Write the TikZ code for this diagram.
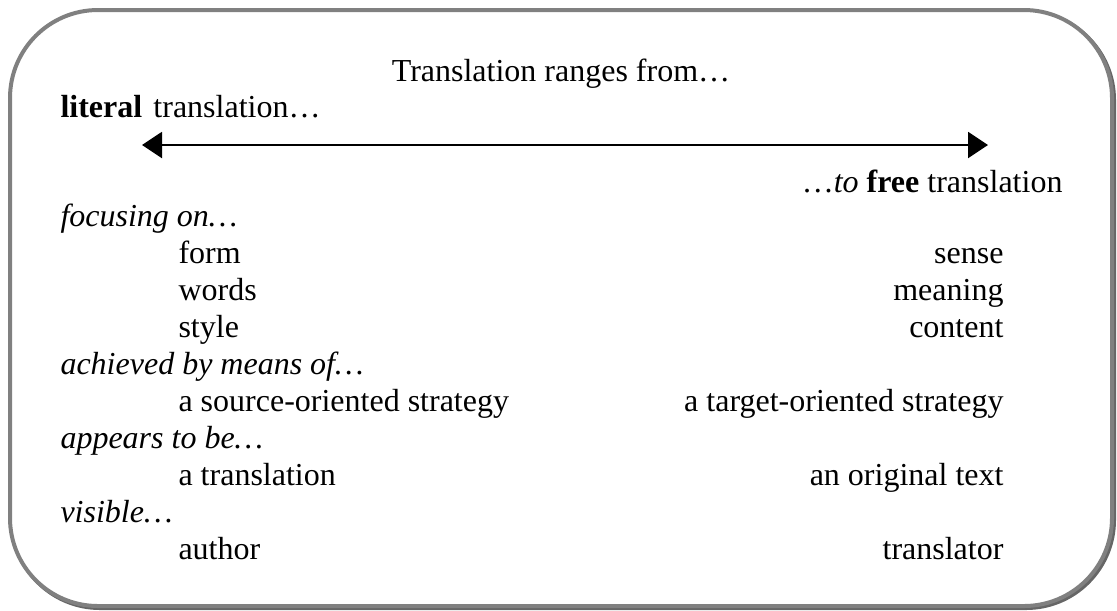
\documentclass[tikz,border=0pt]{standalone}
\usepackage{fontspec}
\setmainfont{Liberation Serif}
\usetikzlibrary{arrows.meta}

\begin{document}
\begin{tikzpicture}[x=0.375pt, y=-0.375pt,
    txt/.style={anchor=base west, inner sep=0pt, font=\fontsize{12}{14}\selectfont},
    rtxt/.style={anchor=base east, inner sep=0pt, font=\fontsize{12}{14}\selectfont},
    frame/.style={line width=1.5pt, rounded corners=33pt}]
\useasboundingbox (0,0) rectangle (1117,610);
% frame with a small shadow
\draw[frame, black!60] (12,12) rectangle (1114,608);
\draw[frame, gray, fill=white] (10,10) rectangle (1112,606);

\node[txt, anchor=base] (title) at (561,81) {Translation ranges from…};
\node[txt] (literal) at (60,117) {\textbf{literal}\hspace{0.35em}translation…};
\node[rtxt] (free) at (1063,192) {…\textit{to} \textbf{free} translation};

\coordinate (lft) at (142,145);
\coordinate (rgt) at (988,145);
\draw[line width=0.8pt, {Triangle[length=7.5pt,width=9.75pt]}-{Triangle[length=7.5pt,width=9.75pt]}] (lft) -- (rgt);

% focusing on
\node[txt] (focus) at (60,226) {\textit{focusing on…}};
\node[txt] (form) at (178,263) {form};
\node[rtxt] (sense) at (1004,263) {sense};
\node[txt] (words) at (178,300) {words};
\node[rtxt] (meaning) at (1004,300) {meaning};
\node[txt] (style) at (178,337) {style};
\node[rtxt] (content) at (1004,337) {content};

% achieved by
\node[txt] (means) at (60,374) {\textit{achieved by means of…}};
\node[txt] (source) at (178,411) {a source-oriented strategy};
\node[rtxt] (target) at (1004,411) {a target-oriented strategy};

% appears to be
\node[txt] (appears) at (60,448) {\textit{appears to be…}};
\node[txt] (transl) at (178,485) {a translation};
\node[rtxt] (original) at (1004,485) {an original text};

% visible
\node[txt] (visible) at (60,522) {\textit{visible…}};
\node[txt] (author) at (178,559) {author};
\node[rtxt] (translator) at (1004,559) {translator};
\end{tikzpicture}
\end{document}
